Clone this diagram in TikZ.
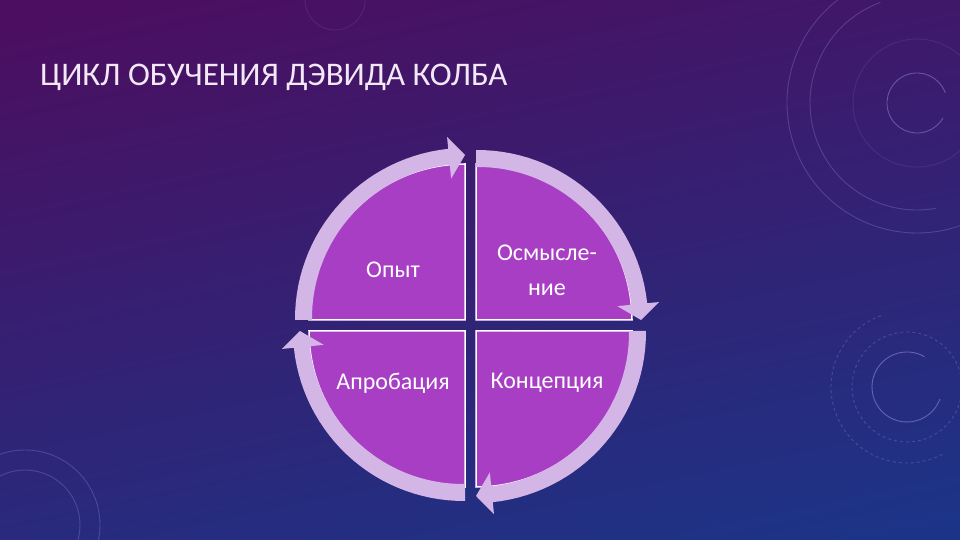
\documentclass[tikz,border=0pt]{standalone}
\usepackage{fontspec}
\setmainfont{Carlito}
\usetikzlibrary{positioning,calc}

\definecolor{bgtop}{RGB}{76,14,96}
\definecolor{bgmid}{RGB}{40,24,100}
\definecolor{bgbot}{RGB}{28,52,135}
\definecolor{quadfill}{RGB}{168,62,196}
\definecolor{bandfill}{RGB}{212,182,230}
\definecolor{titlecol}{RGB}{242,232,246}
\definecolor{hudline}{RGB}{175,170,235}

\tikzset{
	quad/.style={fill=quadfill, draw=white, line width=1.5pt, line join=miter},
	band/.style={fill=bandfill},
	lbl/.style={text=white, font=\fontsize{24}{35}\selectfont, align=center, inner sep=1pt},
	hud/.style={draw=hudline, line width=0.9pt, opacity=0.25},
}

\begin{document}
\begin{tikzpicture}[x=1pt, y=1pt]
	\useasboundingbox (0,0) rectangle (960,540);
	\shade[top color=bgtop, middle color=bgmid, bottom color=bgbot, shading angle=12] (-40,-40) rectangle (1000,580);

	% faint circles in the background
	\draw[hud, opacity=0.4] (917,437) ++(20:30) arc[start angle=20, end angle=330, radius=30];
	\draw[hud, opacity=0.12] (917,437) circle[radius=64];
	\draw[hud] (917,437) ++(110:107) arc[start angle=110, end angle=280, radius=107];
	\draw[hud] (917,437) ++(100:130) arc[start angle=100, end angle=300, radius=130];
	\draw[hud, opacity=0.45] (907,153) ++(60:35) arc[start angle=60, end angle=340, radius=35];
	\draw[hud, dashed] (907,153) circle[radius=55];
	\draw[hud, dashed] (907,153) ++(110:76) arc[start angle=110, end angle=300, radius=76];
	\draw[hud] (25,15) circle[radius=55];
	\draw[hud] (25,15) circle[radius=75];
	\draw[hud, opacity=0.12] (335,540) circle[radius=30];

	\node[text=titlecol, anchor=base west, inner sep=0pt, font=\fontsize{33}{36}\selectfont] (title) at (40,454) {ЦИКЛ ОБУЧЕНИЯ ДЭВИДА КОЛБА};

	% four sectors, each with its curved arrow
	\foreach \cx/\cy/\rot in {465/220/0, 476/220/-90, 476/209/-180, 465/209/-270} {
		\begin{scope}[shift={(\cx,\cy)}, rotate=\rot]
			\filldraw[quad] (0,0) -- (180:156) arc[start angle=180, end angle=90, radius=156] -- cycle;
			\fill[band] plot[domain=180:95.6, samples=30] (\x:{153+(180-\x)*0.036})
				-- (95.6:142) -- (90:165) -- (95.6:184)
				-- plot[domain=95.6:180, samples=30] (\x:{172-(\x-95.6)*0.024}) -- cycle;
		\end{scope}
	}

	\node[lbl] (opyt) at (393,270) {Опыт};
	\node[lbl] (osmysl) at (547,270) {Осмысле-\\ние};
	\node[lbl] (aprob) at (393,157) {Апробация};
	\node[lbl] (konc) at (547,157) {Концепция};
\end{tikzpicture}
\end{document}
